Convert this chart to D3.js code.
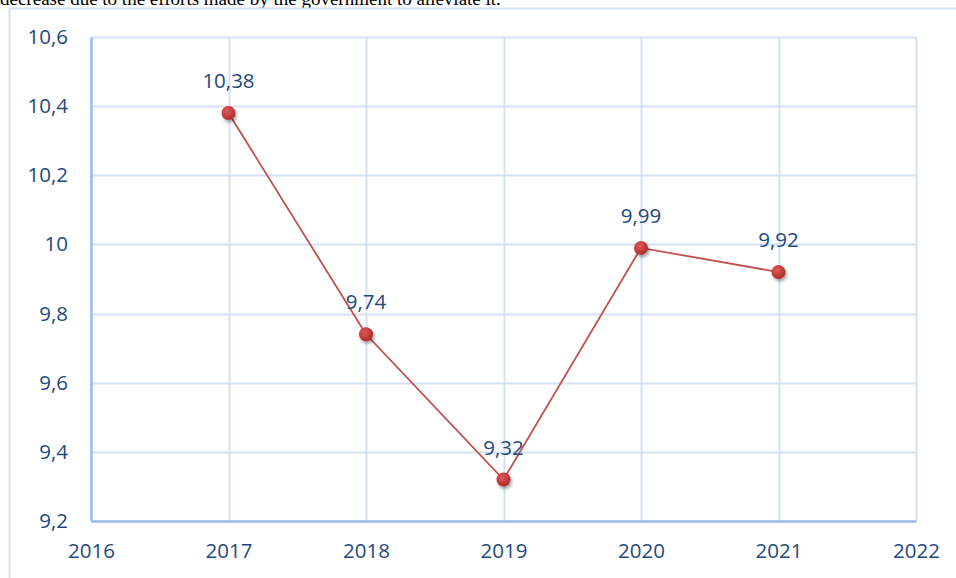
<!DOCTYPE html>
<html><head><meta charset="utf-8">
<script src="https://cdn.jsdelivr.net/npm/d3@7/dist/d3.min.js"></script>
<style>body{margin:0;background:#fff;overflow:hidden}</style>
</head><body>
<svg id="c" width="956" height="578"></svg>
<script>
const years = [2017, 2018, 2019, 2020, 2021];
const values = [10.38, 9.74, 9.32, 9.99, 9.92];
const valueLabels = ["10,38", "9,74", "9,32", "9,99", "9,92"];
const xTicks = [2016, 2017, 2018, 2019, 2020, 2021, 2022];
const yTicks = [9.2, 9.4, 9.6, 9.8, 10, 10.2, 10.4, 10.6];
const captionText = "decrease due to the efforts made by the government to alleviate it.";

const svg = d3.select("#c");
const font = "'Open Sans', sans-serif";
const fs = 20.5;
const labelColor = "#1f497d";

// caption (cut off at top, as in the reference)
svg.append("text").attr("x", 0).attr("y", 5)
  .attr("font-family", "'Liberation Serif', 'Times New Roman', serif")
  .attr("font-size", 19).attr("fill", "#000").text(captionText);

// outer chart border
svg.append("path").attr("d", "M9.5,578 V8.5 H956")
  .attr("fill", "none").attr("stroke", "#d6e2f3").attr("stroke-width", 2);

const pLeft = 91, pRight = 916, pTop = 37, pBottom = 521;
const x = d3.scaleLinear().domain([2016, 2022]).range([pLeft, pRight]);
const y = d3.scaleLinear().domain([9.2, 10.6]).range([pBottom, pTop]);

const defs = svg.append("defs");
const rg = defs.append("radialGradient").attr("id", "mk").attr("cx", "40%").attr("cy", "35%").attr("r", "65%");
rg.append("stop").attr("offset", "0%").attr("stop-color", "#e15a5a");
rg.append("stop").attr("offset", "100%").attr("stop-color", "#b02a2a");
const f = defs.append("filter").attr("id", "sh").attr("x", "-100%").attr("y", "-100%").attr("width", "300%").attr("height", "300%");
f.append("feDropShadow").attr("dx", 1.5).attr("dy", 2.5).attr("stdDeviation", 1.8).attr("flood-color", "#000").attr("flood-opacity", 0.35);

// gridlines
const g = svg.append("g");
g.selectAll("line.h").data(yTicks).join("line")
  .attr("x1", pLeft).attr("x2", pRight).attr("y1", d => Math.round(y(d)) + 0.5).attr("y2", d => Math.round(y(d)) + 0.5)
  .attr("stroke", "#d5e1f3").attr("stroke-width", 2);
g.selectAll("line.v").data(xTicks).join("line")
  .attr("y1", pTop).attr("y2", pBottom).attr("x1", d => Math.round(x(d)) + 0.5).attr("x2", d => Math.round(x(d)) + 0.5)
  .attr("stroke", "#d5e1f3").attr("stroke-width", 2);

// axes
const yAxis = d3.axisLeft(y).tickValues(yTicks).tickSize(0).tickPadding(23)
  .tickFormat(d => d3.format(".1f")(d).replace(".0", "").replace(".", ","));
const ya = svg.append("g").attr("transform", `translate(${pLeft},0)`).call(yAxis);
ya.select(".domain").attr("stroke", "#9dbbe6").attr("stroke-width", 2.5);
ya.selectAll("text").attr("font-family", font).attr("font-size", fs).attr("fill", labelColor);

const xAxis = d3.axisBottom(x).tickValues(xTicks).tickSize(0).tickPadding(22).tickFormat(d3.format("d"));
const xa = svg.append("g").attr("transform", `translate(0,${pBottom})`).call(xAxis);
xa.select(".domain").attr("stroke", "#9dbbe6").attr("stroke-width", 2.5);
xa.selectAll("text").attr("font-family", font).attr("font-size", fs).attr("fill", labelColor);

// line
const line = d3.line().x((d, i) => x(years[i])).y(d => y(d));
svg.append("path").datum(values).attr("d", line)
  .attr("fill", "none").attr("stroke", "#c0504d").attr("stroke-width", 1.8);

// markers
svg.selectAll("circle.m").data(values).join("circle")
  .attr("cx", (d, i) => x(years[i])).attr("cy", d => y(d)).attr("r", 7)
  .attr("fill", "url(#mk)").attr("filter", "url(#sh)");

// data labels
svg.selectAll("text.dl").data(values).join("text")
  .attr("x", (d, i) => x(years[i])).attr("y", d => y(d) - 25)
  .attr("text-anchor", "middle").attr("font-family", font).attr("font-size", fs)
  .attr("fill", labelColor).text((d, i) => valueLabels[i]);
</script>
</body></html>
